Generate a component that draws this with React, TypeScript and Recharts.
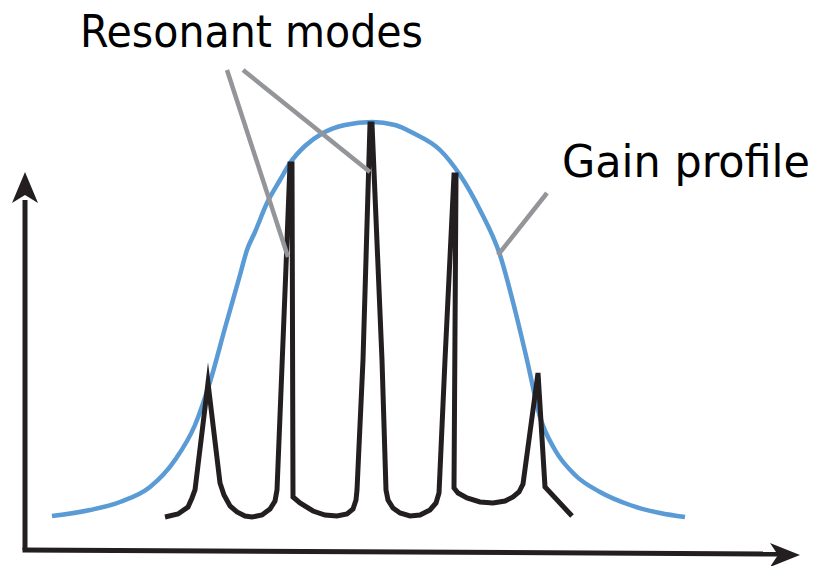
import { LineChart, Line, XAxis, YAxis, ReferenceLine, ReferenceDot } from "recharts";

// x = position along the frequency axis, y = intensity above the baseline
const gainProfile = [
  { x: 27, y: 34 }, { x: 65, y: 40 }, { x: 95, y: 48 }, { x: 125, y: 63 },
  { x: 150, y: 90 }, { x: 170, y: 125 }, { x: 185, y: 168 }, { x: 200, y: 222 },
  { x: 215, y: 275 }, { x: 222, y: 300 }, { x: 230, y: 318 }, { x: 242, y: 347 },
  { x: 255, y: 370 }, { x: 265, y: 387 }, { x: 280, y: 404 }, { x: 298, y: 417 },
  { x: 320, y: 425 }, { x: 347, y: 428 }, { x: 370, y: 425 }, { x: 388, y: 417 },
  { x: 415, y: 400 }, { x: 435, y: 375 }, { x: 455, y: 340 }, { x: 475, y: 295 },
  { x: 490, y: 240 }, { x: 502, y: 190 }, { x: 515, y: 133 }, { x: 530, y: 100 },
  { x: 550, y: 75 }, { x: 575, y: 58 }, { x: 605, y: 45 }, { x: 635, y: 37 },
  { x: 660, y: 33 },
];

const resonantModes = [
  { x: 140, y: 33 }, { x: 153, y: 36 }, { x: 163, y: 43 }, { x: 167, y: 52 }, { x: 170, y: 60 },
  { x: 183, y: 167 },
  { x: 195, y: 67 }, { x: 199, y: 55 }, { x: 205, y: 44 }, { x: 212, y: 38 }, { x: 220, y: 34 },
  { x: 227, y: 33 }, { x: 237, y: 35 }, { x: 245, y: 41 }, { x: 250, y: 49 }, { x: 252, y: 60 },
  { x: 261, y: 283 }, { x: 265, y: 386 }, { x: 267, y: 386 }, { x: 268, y: 53 },
  { x: 275, y: 47 }, { x: 288, y: 39 }, { x: 300, y: 35 }, { x: 312, y: 34 }, { x: 322, y: 36 },
  { x: 328, y: 41 }, { x: 331, y: 50 }, { x: 332, y: 60 },
  { x: 338, y: 190 }, { x: 345, y: 426 }, { x: 347, y: 426 }, { x: 357, y: 190 },
  { x: 361, y: 60 }, { x: 363, y: 50 }, { x: 368, y: 42 }, { x: 375, y: 37 }, { x: 385, y: 34 },
  { x: 395, y: 35 }, { x: 405, y: 40 }, { x: 411, y: 47 }, { x: 414, y: 57 },
  { x: 420, y: 190 }, { x: 429, y: 375 }, { x: 431, y: 375 }, { x: 429, y: 62 },
  { x: 433, y: 57 }, { x: 442, y: 52 }, { x: 455, y: 48 }, { x: 468, y: 47 }, { x: 480, y: 49 },
  { x: 488, y: 53 }, { x: 494, y: 58 }, { x: 498, y: 66 },
  { x: 513, y: 177 },
  { x: 520, y: 63 }, { x: 547, y: 34 },
];

// pointer lines: label end -> curve end
const pointers = [
  [{ x: 202, y: 480 }, { x: 263, y: 293 }],
  [{ x: 218, y: 480 }, { x: 345, y: 378 }],
  [{ x: 522, y: 357 }, { x: 473, y: 295 }],
];

const labels = [
  { text: "Resonant modes", x: 55, y: 503, width: 343 },
  { text: "Gain profile", x: 537, y: 373, width: 248 },
];

const INK = "#231f20";

const UpArrow = (props: any) => {
  const { cx, cy } = props;
  return <path d={`M${cx},${cy} L${cx + 13},${cy + 31} L${cx},${cy + 23} L${cx - 13},${cy + 31} Z`} fill={INK} />;
};

const RightArrow = (props: any) => {
  const { cx, cy } = props;
  return <path d={`M${cx},${cy} L${cx - 30},${cy + 12} L${cx - 22},${cy} L${cx - 30},${cy - 12} Z`} fill={INK} />;
};

const LabelText = (label: { text: string; width: number }) => (props: any) => (
  <text
    x={props.cx}
    y={props.cy}
    fontFamily="'DejaVu Sans Condensed', 'DejaVu Sans', sans-serif"
    fontSize={45}
    fill="#000"
    textLength={label.width}
    lengthAdjust="spacingAndGlyphs"
  >
    {label.text}
  </text>
);

export default function App() {
  return (
    <div style={{ position: "absolute", left: 0, top: 0, background: "#fff" }}>
      <LineChart width={821} height={566} margin={{ top: 0, right: 0, bottom: 0, left: 0 }}>
        <XAxis type="number" dataKey="x" domain={[-25, 796]} hide allowDataOverflow />
        <YAxis type="number" dataKey="y" domain={[-16, 550]} hide allowDataOverflow />

        {/* axes */}
        <ReferenceLine segment={[{ x: 0, y: 0 }, { x: 0, y: 350 }]} stroke={INK} strokeWidth={5} ifOverflow="visible" />
        <ReferenceLine segment={[{ x: -2.5, y: 0 }, { x: 760, y: -4 }]} stroke={INK} strokeWidth={5} ifOverflow="visible" />
        <ReferenceDot x={0} y={378} shape={UpArrow} ifOverflow="visible" />
        <ReferenceDot x={775} y={-5} shape={RightArrow} ifOverflow="visible" />

        <Line data={gainProfile} dataKey="y" type="monotone" stroke="#5b9bd5" strokeWidth={4.5} dot={false} activeDot={false} isAnimationActive={false} strokeDasharray="none" strokeLinecap="butt" />
        <Line data={resonantModes} dataKey="y" type="linear" stroke={INK} strokeWidth={5} dot={false} activeDot={false} isAnimationActive={false} strokeDasharray="none" strokeLinecap="butt" strokeMiterlimit={10} />

        {pointers.map((seg, i) => (
          <ReferenceLine key={i} segment={seg} stroke="#939598" strokeWidth={4.5} ifOverflow="visible" />
        ))}

        {labels.map((l) => (
          <ReferenceDot key={l.text} x={l.x} y={l.y} shape={LabelText(l)} ifOverflow="visible" />
        ))}
      </LineChart>
    </div>
  );
}
